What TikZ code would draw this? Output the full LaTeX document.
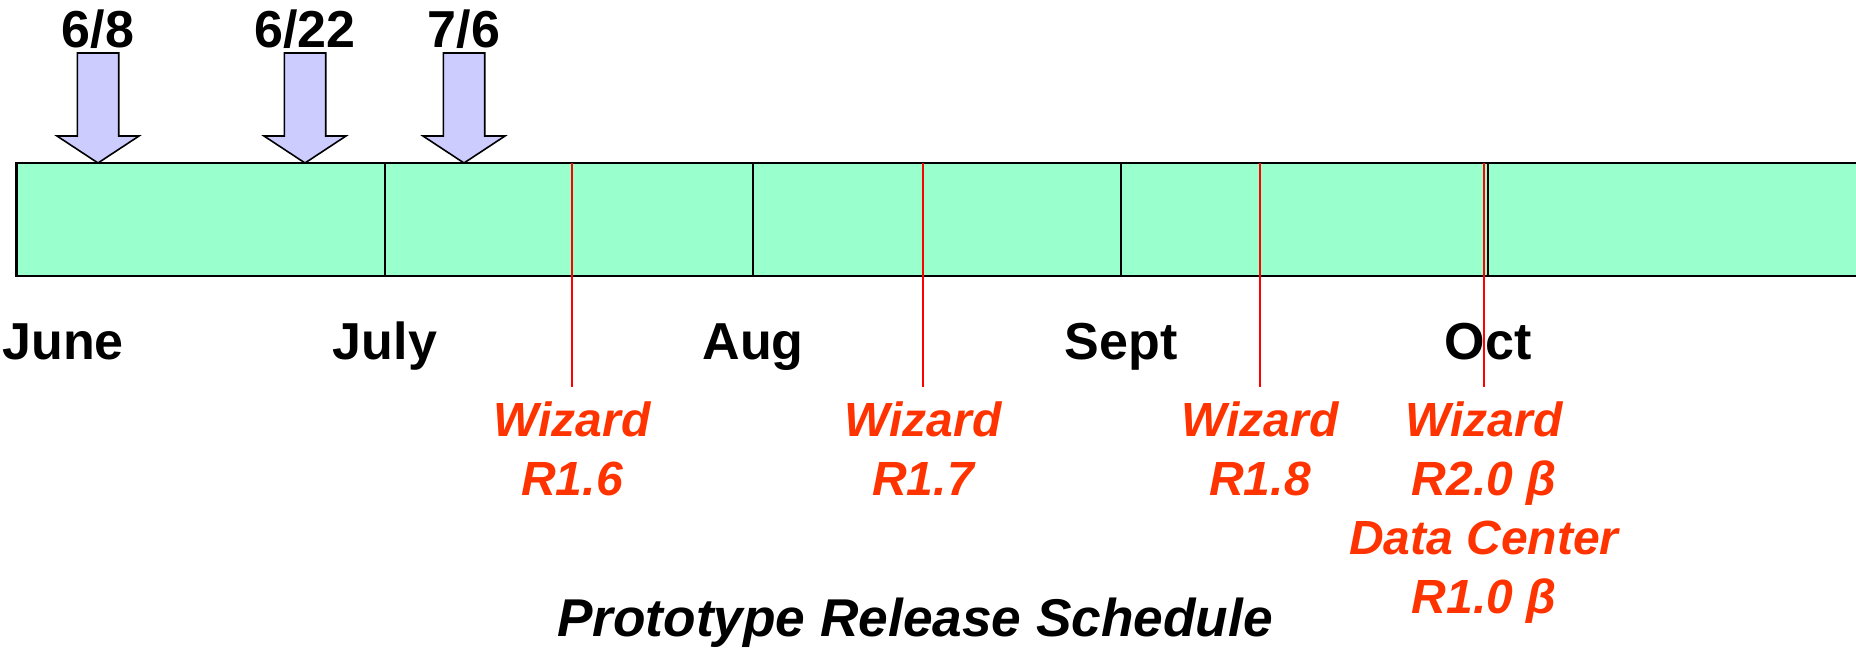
\documentclass[tikz,border=0pt]{standalone}
\usepackage{fontspec}
\setmainfont{Liberation Sans}
\definecolor{mint}{RGB}{153,255,204}
\definecolor{lavender}{RGB}{204,204,255}
\definecolor{relred}{RGB}{255,51,0}
\tikzset{
  month/.style={font=\fontsize{26}{30}\selectfont\bfseries, anchor=base, inner sep=0pt},
  release/.style={font=\fontsize{24}{29.5}\selectfont\bfseries\itshape, text=relred,
    align=center, anchor=north, inner sep=0pt},
  relline/.style={red, line width=0.75pt},
  datearrow/.style={fill=lavender, draw=black, line width=0.8pt},
}

\begin{document}
\begin{tikzpicture}[x=0.5pt,y=-0.5pt]
    \useasboundingbox (0,0) rectangle (1856,649);
    % the bar
    \fill[mint] (16.6,163) rectangle (1870,276);
    \draw[line width=1.2pt] (1870,163) -- (16.6,163) -- (16.6,276) -- (1870,276);
    \foreach \x in {385,753,1121,1488}
      \draw[line width=1.2pt] (\x,163) -- (\x,276);
    % months
    \foreach \m/\x in {June/63,July/385,Aug/753,Sept/1121,Oct/1488}
      \node[month] (\m) at (\x,359) {\m};
    % dates with block arrows
    \foreach \n/\d/\x in {a/6\slash 8/98,b/6\slash 22/305,c/7\slash 6/464}{
      \node[month] (date-\n) at (\x,47) {\d};
      \draw[datearrow] (\x-20.7,53) -- (\x+20.7,53) -- (\x+20.7,136) -- (\x+41,136)
        -- (\x,163) -- (\x-41,136) -- (\x-20.7,136) -- cycle;
    }
    % releases
    \node[release] (r16) at (572,401) {Wizard\\R1.6};
    \node[release] (r17) at (923,401) {Wizard\\R1.7};
    \node[release] (r18) at (1260,401) {Wizard\\R1.8};
    \node[release] (r20) at (1484,401) {Wizard\\R2.0 β\\Data Center\\R1.0 β};
    \foreach \r/\x in {r16/572,r17/923,r18/1260,r20/1484}{
      \coordinate (top-\r) at (\x,163);
      \draw[relline] (top-\r) -- ([yshift=7pt]\r.north);
    }
    % title
    \node[month, font=\fontsize{26.6}{30}\selectfont\bfseries\itshape] (title) at (915,636)
      {Prototype Release Schedule};
\end{tikzpicture}
\end{document}
